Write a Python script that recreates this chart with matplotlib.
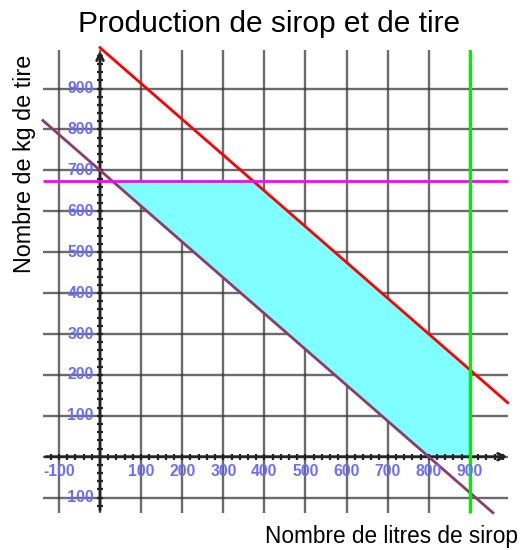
import numpy as np
import matplotlib
matplotlib.use('Agg')
import matplotlib.pyplot as plt

plt.rcParams['font.family'] = ['Liberation Sans', 'DejaVu Sans']

# grid positions and tick labels
grid_x = [-100, 0, 100, 200, 300, 400, 500, 600, 700, 800, 900]
grid_y = [-100, 0, 100, 200, 300, 400, 500, 600, 700, 800, 900]
x_labels = [-100, 100, 200, 300, 400, 500, 600, 700, 800, 900]
y_labels = [-100, 100, 200, 300, 400, 500, 600, 700, 800, 900]

# constraint lines (end points)
red_x = [0, 992]
red_y = [1000, 132]
purple_x = [-139, 956]
purple_y = [822, -137]
magenta_y = 675
green_x = 900

# feasible region
region_x = [28.6, 371.4, 900, 900, 800]
region_y = [675, 675, 212.5, 0, 0]

X_MIN, X_MAX = -139, 993
Y_MIN, Y_MAX = -138, 994

fig = plt.figure(figsize=(5.23, 5.5), dpi=100)
ax = fig.add_axes([0, 0, 1, 1])
ax.set_xlim(-243.3, 1029.2)
ax.set_ylim(-228.1, 1116.6)
ax.axis('off')

# grid
ax.hlines(grid_y, X_MIN, X_MAX, colors='#3a3a3a', linewidth=1.7, alpha=0.75, zorder=1)
ax.vlines(grid_x, Y_MIN, Y_MAX, colors='#3a3a3a', linewidth=1.7, alpha=0.75, zorder=1)

# shaded region
ax.fill(region_x, region_y, color='#7fffff', zorder=2, linewidth=0)

# axes with arrows
ax.annotate('', xy=(X_MAX + 5, 0), xytext=(X_MIN, 0),
            arrowprops=dict(arrowstyle='->', color='#222222', lw=2, mutation_scale=12), zorder=3)
ax.annotate('', xy=(0, Y_MAX + 5), xytext=(0, Y_MIN),
            arrowprops=dict(arrowstyle='->', color='#222222', lw=2, mutation_scale=12), zorder=3)

# small ticks along the axes
minor_x = np.arange(-120, 981, 20)
minor_y = np.arange(-120, 981, 20)
ax.plot(minor_x, np.zeros_like(minor_x), linestyle='none', marker='|', markersize=5,
        markeredgewidth=1.6, color='#222222', zorder=3)
ax.plot(np.zeros_like(minor_y), minor_y, linestyle='none', marker='_', markersize=5,
        markeredgewidth=1.6, color='#222222', zorder=3)

# constraint lines
ax.plot(red_x, red_y, color='#ff0000', linewidth=2, zorder=4)
ax.plot(purple_x, purple_y, color='#8e3a6a', linewidth=2, zorder=4)
ax.hlines(magenta_y, X_MIN, X_MAX, colors='#ff00ff', linewidth=2, zorder=4)
ax.vlines(green_x, Y_MIN, Y_MAX, colors='#00ee00', linewidth=2.2, zorder=4)

# tick labels
for v in x_labels:
    ax.text(v, -35, str(v), ha='center', va='center', fontsize=11.3,
            fontweight='bold', color='#6b6bff', zorder=5)
for v in y_labels:
    ax.text(-15, v, str(v), ha='right', va='center', fontsize=11.3,
            fontweight='bold', color='#6b6bff', zorder=5)

fig.text(269 / 523, 1 - 24 / 550, 'Production de sirop et de tire',
         ha='center', va='center', fontsize=21.5)
fig.text(518 / 523, 1 - 536 / 550, 'Nombre de litres de sirop',
         ha='right', va='center', fontsize=16.3)
fig.text(25 / 523, 1 - 164 / 550, 'Nombre de kg de tire',
         ha='center', va='center', rotation=90, fontsize=16.8)

fig.savefig('out.png', dpi=100)
